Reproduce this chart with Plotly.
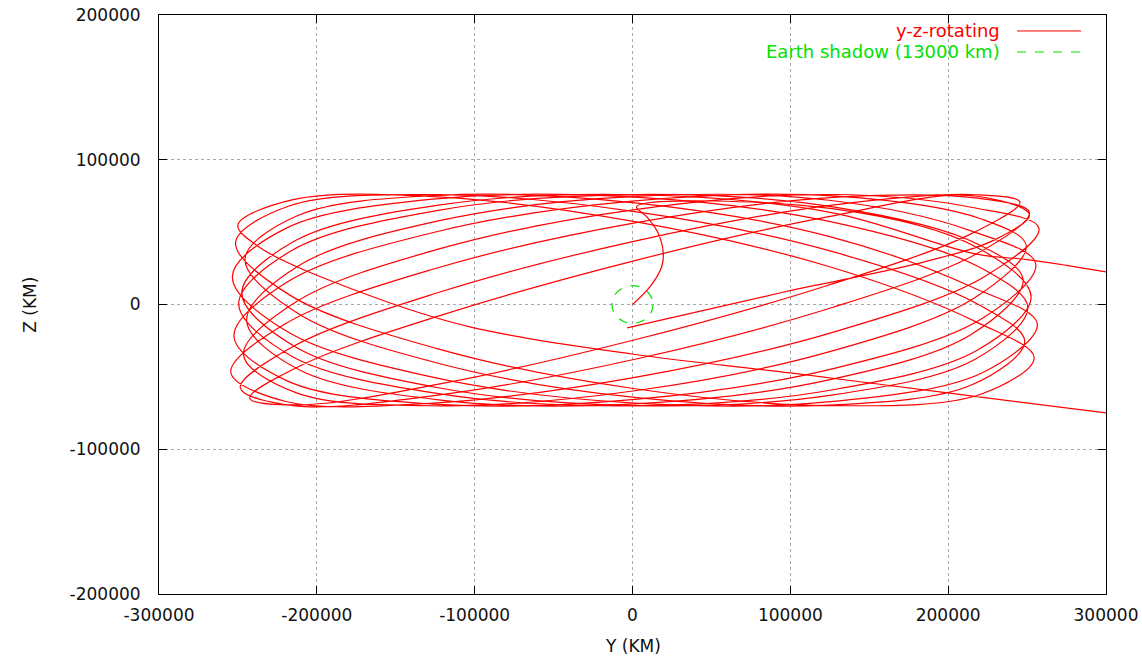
import plotly.graph_objects as go

# Axis ticks (km)
Y_TICKS = [-300000, -200000, -100000, 0, 100000, 200000, 300000]
Y_TICK_LABELS = ["-300000", "-200000", "-100000", "0", "100000", "200000", "300000"]
Z_TICKS = [-200000, -100000, 0, 100000, 200000]
Z_TICK_LABELS = ["-200000", "-100000", "0", "100000", "200000"]

SHADOW_RADIUS_KM = 13000

# Transfer leg leaving Earth (y, z in km)
TRANSFER_Y = [0, 11100, 18500, 19500, 16300, 9000, 2600]
TRANSFER_Z = [0, 12300, 26100, 35400, 49200, 60700, 67600]

# First orbit arc, continuing from the transfer leg (one row per revolution)
ORBIT_A_Y = [
    126500, 218000,
    252500, 218900, 127000, 1500, -124000, -215900, -249500, -215900, -124000, 1500, 127000, 218900,
    247500, 214500, 124500, 1500, -121500, -211500, -244500, -211500, -121500, 1500, 124500, 214500,
    255500, 221500, 128500, 1500, -125500, -218500, -252500, -218500, -125500, 1500, 128500, 221500,
    249500, 216300, 125500, 1500, -122500, -213300, -246500, -213300, -122500, 1500, 125500, 216300,
    257500, 223200, 129500, 1500, -126500, -220200, -254500, -220200, -126500, 1500, 129500, 223200,
    251500, 218000, 126500, 1500, -123500, -215000, -248500, -215000, -123500, 1500, 126500, 218000,
    245500, 212800, 123500, 1500, -120500, -209800, -242500, -209800, -120500, 1500, 123500, 212800,
    251500, 230000, 185400, 96600, -3500,
]
ORBIT_A_Z = [
    66200, 39500,
    5550, -31270, -58900, -69960, -61450, -35680, 450, 37270, 64900, 75960, 67450, 41680,
    16930, -20770, -52090, -68660, -66020, -44900, -10930, 26770, 58090, 74660, 72020, 50900,
    27970, -9670, -43920, -65600, -68890, -52920, -21970, 15670, 49920, 71600, 74890, 58920,
    40600, 4280, -32390, -59580, -69990, -60850, -34600, 1720, 38390, 65580, 75990, 66850,
    52790, 19420, -18350, -50390, -68130, -66810, -46790, -13420, 24350, 56390, 74130, 72810,
    63520, 35000, -2090, -37820, -62610, -69820, -57520, -29000, 8090, 43820, 68610, 75820,
    70680, 47950, 13160, -24350, -54520, -69290, -64680, -41950, -7160, 30350, 60520, 75290,
    62000, 45000, 29600, 8800, -16200,
]

# Second orbit arc, entering from +Y and leaving toward +Y
ORBIT_B_Y = [
    300000, 199600, 100100, -300, -103000, -172600, -236600, -250000,
    -215000, -123500, 1500, 126500, 218000,
    254500, 220600, 128000, 1500, -125000, -217600, -251500, -217600, -125000, 1500, 128000, 220600,
    248500, 215400, 125000, 1500, -122000, -212400, -245500, -212400, -122000, 1500, 125000, 215400,
    256500, 222300, 129000, 1500, -126000, -219300, -253500, -219300, -126000, 1500, 129000, 222300,
    250500, 217100, 126000, 1500, -123000, -214100, -247500, -214100, -123000, 1500, 126000, 217100,
    250000, 275000, 300000,
]
ORBIT_B_Z = [
    -74900, -61100, -47300, -34200, -15500, 8600, 39700, 55000,
    72430, 74400, 57250, 25560, -12180,
    -36760, -62040, -69900, -58220, -30140, 6820, 42760, 68040, 75900, 64220, 36140, -820,
    -25520, -55300, -69450, -64200, -40930, -5900, 31520, 61300, 75450, 70200, 46930, 11900,
    -13420, -46790, -66810, -68130, -50390, -18350, 19420, 52790, 72810, 74130, 56390, 24350,
    -2090, -37820, -62610, -69820, -57520, -29000, 8090, 43820, 68610, 75820, 63520, 35000,
    31000, 27000, 22500,
]

RED = "rgb(255,0,0)"
GREEN = "rgb(0,225,0)"
FONT = "DejaVu Sans"

track_y = TRANSFER_Y + ORBIT_A_Y + [None] + ORBIT_B_Y
track_z = TRANSFER_Z + ORBIT_A_Z + [None] + ORBIT_B_Z

fig = go.Figure()
fig.add_trace(go.Scatter(
    x=track_y, y=track_z, mode="lines", name="y-z-rotating",
    line=dict(color=RED, width=1.2, shape="spline", smoothing=1.0),
    connectgaps=False, showlegend=False, hoverinfo="skip",
))

# Earth shadow circle
fig.add_shape(
    type="circle", xref="x", yref="y",
    x0=-SHADOW_RADIUS_KM, x1=SHADOW_RADIUS_KM,
    y0=-SHADOW_RADIUS_KM, y1=SHADOW_RADIUS_KM,
    line=dict(color=GREEN, width=1.2, dash="dash"),
)

# Key (text on the left, line sample on the right)
key_entries = [
    ("y-z-rotating", RED, "solid", 0.9724),
    ("Earth shadow (13000 km)", GREEN, "dash", 0.9361),
]
for label, color, dash, ky in key_entries:
    fig.add_annotation(
        x=0.8902, y=ky, xref="paper", yref="paper", text=label, showarrow=False,
        xanchor="right", yanchor="middle", font=dict(family=FONT, size=18, color=color),
    )
    fig.add_shape(
        type="line", xref="paper", yref="paper", x0=0.906, x1=0.9736, y0=ky, y1=ky,
        line=dict(color=color, width=1, dash=dash),
    )

# Axis titles
fig.add_annotation(x=0.5, y=-0.09, xref="paper", yref="paper", text="Y (KM)", showarrow=False,
                   xanchor="center", yanchor="middle", font=dict(family=FONT, size=17, color="#111"))
fig.add_annotation(x=-0.137, y=0.5, xref="paper", yref="paper", text="Z (KM)", showarrow=False,
                   textangle=-90, xanchor="center", yanchor="middle",
                   font=dict(family=FONT, size=17, color="#111"))

axis_common = dict(
    showline=True, linecolor="#000", linewidth=1, mirror="ticks",
    ticks="inside", ticklen=8, tickcolor="#000", tickwidth=1,
    showgrid=True, gridcolor="#a8a8a8", griddash="dot", gridwidth=1,
    zeroline=False, tickfont=dict(family=FONT, size=17, color="#111"),
)
fig.update_xaxes(range=[-300000, 300000], tickvals=Y_TICKS, ticktext=Y_TICK_LABELS,
                 ticklabelstandoff=6, **axis_common)
fig.update_yaxes(range=[-200000, 200000], tickvals=Z_TICKS, ticktext=Z_TICK_LABELS,
                 ticklabelstandoff=14, **axis_common)

fig.update_layout(
    width=1142, height=658,
    margin=dict(l=159, r=36, t=15, b=64, autoexpand=False),
    paper_bgcolor="white", plot_bgcolor="white",
    showlegend=False,
)

fig.write_html("out.html")
